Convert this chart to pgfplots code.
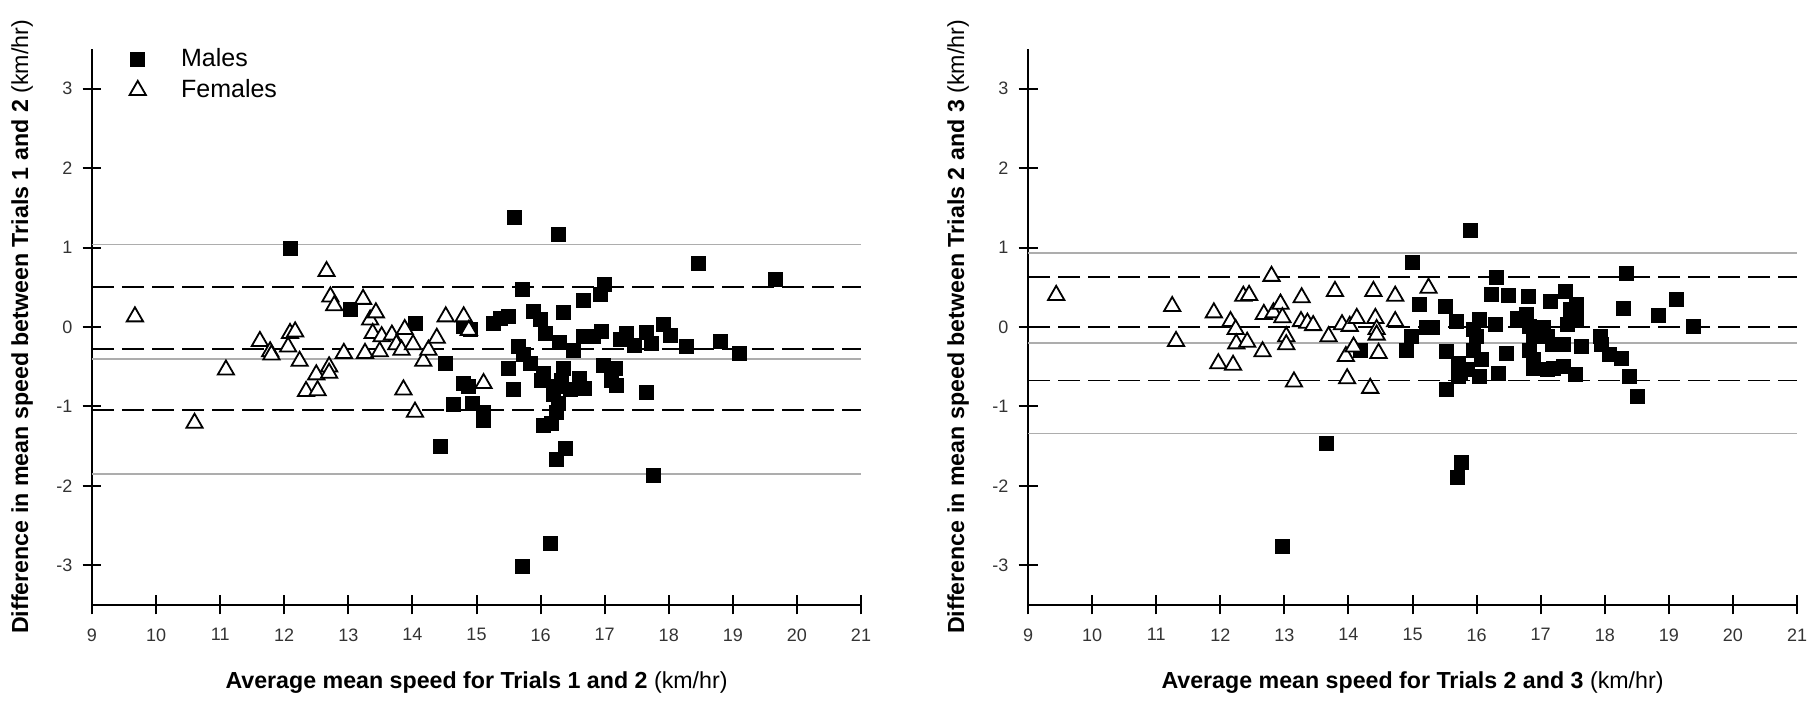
\documentclass[border=0pt]{standalone}
\usepackage{fontspec}
\setmainfont{Liberation Sans}
\usepackage{pgfplots}
\pgfplotsset{compat=1.18}

\pgfplotsset{
  ba/.style={
    width=384.5pt, height=278pt, scale only axis,
    xmin=9, xmax=21, ymin=-3.5, ymax=3.5,
    axis lines=left, axis line style={line width=1pt, -},
    xtick={9,...,21}, ytick={-3,...,3},
    tick align=center, major tick length=9.5pt,
    tick style={line width=1pt, black},
    ticklabel style={font=\fontsize{9}{11}\selectfont, text=black!80},
    xticklabel style={yshift=-3.5pt},
    yticklabel style={xshift=-1.5pt},
    /pgf/number format/assume math mode=true,
    every axis y label/.style={at={(axis description cs:-0.091,0.5)}, rotate=90,
      anchor=center, font=\fontsize{11.6}{13}\selectfont},
    every axis x label/.style={at={(axis description cs:0.5,-0.1403)},
      anchor=center, font=\fontsize{11.6}{13}\selectfont},
    clip=false,
  },
  male/.style={only marks, mark=square*, mark size=3.5pt,
    mark options={fill=black, draw=black, line width=0.4pt}},
  female/.style={only marks, mark=triangle*, mark size=4.7pt,
    mark options={fill=white, draw=black, line width=0.9pt}},
  grayline/.style={forget plot, no marks, color=black!32, line width=0.8pt},
  thickdash/.style={forget plot, no marks, black, line width=1.1pt, dash pattern=on 11pt off 4pt},
  thindash/.style={forget plot, no marks, black, line width=0.7pt, dash pattern=on 11pt off 4pt},
}

\begin{document}
\begin{tikzpicture}
\useasboundingbox (0,0) rectangle (905pt,353pt);

% ---- Trials 1 and 2
\begin{axis}[ba, at={(46pt,50.5pt)}, anchor=south west,
  xlabel={\textbf{Average mean speed for Trials 1 and 2} (km/hr)},
  ylabel={\textbf{Difference in mean speed between Trials 1 and 2} (km/hr)},
  legend style={draw=none, fill=none, at={(0.0484,1.005)}, anchor=north west,
    font=\fontsize{12.5}{15}\selectfont, row sep=3pt, inner sep=0pt,
    nodes={inner sep=1pt},
    /tikz/every odd column/.append style={column sep=16.6pt}},
  legend cell align=left,
]
\addplot[male] coordinates {
(12.09,0.99) (13.04,0.22) (14.05,0.04) (14.51,-0.46) (14.64,-0.98)
(14.80,0.01) (14.90,-0.03) (14.80,-0.71) (14.88,-0.75) (14.93,-0.96)
(15.11,-1.07) (15.11,-1.17) (14.43,-1.50) (15.26,0.05) (15.37,0.11)
(15.50,0.13) (15.59,1.38) (15.72,0.47) (15.65,-0.25) (15.73,-0.35)
(15.50,-0.52) (15.57,-0.79) (15.84,-0.46) (15.72,-3.02) (15.89,0.20)
(15.99,0.09) (16.07,-0.08) (16.04,-0.58) (16.02,-0.67) (16.04,-1.24)
(16.17,-1.21) (16.16,-2.73) (16.28,1.16) (16.36,0.18) (16.30,-0.20)
(16.51,-0.29) (16.36,-0.52) (16.33,-0.67) (16.25,-0.75) (16.20,-0.85)
(16.28,-0.96) (16.25,-1.07) (16.38,-1.53) (16.24,-1.67) (16.46,-0.79)
(16.61,-0.65) (16.69,-0.77) (16.67,0.34) (16.67,-0.12) (16.82,-0.12)
(16.95,-0.06) (16.93,0.41) (16.99,0.53) (16.98,-0.48) (17.16,-0.52)
(17.11,-0.67) (17.19,-0.73) (17.24,-0.16) (17.34,-0.08) (17.47,-0.23)
(17.65,-0.07) (17.73,-0.21) (17.65,-0.82) (17.76,-1.87) (17.91,0.03)
(18.02,-0.10) (18.27,-0.25) (18.47,0.80) (18.81,-0.18) (19.11,-0.33)
(19.67,0.60)
};
\addlegendentry{Males}
\addplot[female] coordinates {
(9.67,0.13) (10.60,-1.21) (11.09,-0.54) (11.62,-0.18) (11.78,-0.31)
(11.80,-0.35) (12.06,-0.25) (12.09,-0.08) (12.17,-0.06) (12.24,-0.43)
(12.34,-0.81) (12.50,-0.60) (12.52,-0.80) (12.66,0.70) (12.70,-0.50)
(12.70,-0.58) (12.72,0.38) (12.78,0.27) (12.93,-0.33) (13.23,0.35)
(13.26,-0.33) (13.34,0.09) (13.38,-0.08) (13.43,0.18) (13.49,-0.31)
(13.52,-0.12) (13.68,-0.10) (13.75,-0.22) (13.83,-0.29) (13.86,-0.79)
(13.88,-0.03) (14.01,-0.22) (14.04,-1.07) (14.17,-0.43) (14.25,-0.29)
(14.38,-0.14) (14.52,0.13) (14.80,0.13) (14.88,-0.04) (15.11,-0.71)
};
\addlegendentry{Females}
\addplot[grayline] coordinates {(9,1.04) (21,1.04)};
\addplot[grayline] coordinates {(9,-0.40) (21,-0.40)};
\addplot[grayline] coordinates {(9,-1.85) (21,-1.85)};
\addplot[thickdash] coordinates {(9,0.50) (21,0.50)};
\addplot[thickdash] coordinates {(9,-0.28) (21,-0.28)};
\addplot[thickdash] coordinates {(9,-1.05) (21,-1.05)};
\end{axis}

% ---- Trials 2 and 3
\begin{axis}[ba, at={(514pt,50.5pt)}, anchor=south west,
  xlabel={\textbf{Average mean speed for Trials 2 and 3} (km/hr)},
  ylabel={\textbf{Difference in mean speed between Trials 2 and 3} (km/hr)},
]
\addplot[male] coordinates {
(12.97,-2.76) (13.66,-1.47) (14.19,-0.30) (14.90,-0.30) (14.99,-0.12)
(15.00,0.81) (15.10,0.28) (15.21,-0.01) (15.31,-0.01) (15.52,0.26)
(15.53,-0.31) (15.53,-0.79) (15.69,0.07) (15.72,-0.46) (15.75,-0.58)
(15.72,-0.62) (15.85,-0.54) (15.77,-1.71) (15.70,-1.89) (15.90,1.22)
(15.95,-0.03) (15.95,-0.29) (16.05,0.09) (16.00,-0.12) (16.08,-0.41)
(16.05,-0.62) (16.23,0.41) (16.31,0.62) (16.29,0.03) (16.34,-0.58)
(16.47,-0.33) (16.49,0.40) (16.63,0.11) (16.78,0.16) (16.81,0.39)
(16.83,0.01) (16.83,-0.29) (16.89,-0.12) (16.89,-0.41) (16.89,-0.52)
(17.04,-0.01) (17.10,-0.12) (17.10,-0.54) (17.15,0.32) (17.18,-0.22)
(17.20,-0.52) (17.35,-0.22) (17.35,-0.50) (17.38,0.45) (17.41,0.03)
(17.46,0.22) (17.56,0.28) (17.56,0.11) (17.54,-0.60) (17.64,-0.25)
(17.93,-0.12) (17.95,-0.22) (18.08,-0.35) (18.26,-0.39) (18.34,0.68)
(18.29,0.24) (18.38,-0.62) (18.51,-0.88) (18.84,0.14) (19.11,0.35)
(19.38,0.01)
};
\addplot[female] coordinates {
(9.44,0.40) (11.25,0.26) (11.31,-0.18) (11.90,0.18) (11.97,-0.46)
(12.16,0.07) (12.20,-0.48) (12.24,-0.03) (12.25,-0.21) (12.36,0.39)
(12.42,-0.19) (12.45,0.40) (12.66,-0.31) (12.68,0.16) (12.80,0.64)
(12.83,0.18) (12.94,0.29) (12.97,0.12) (13.03,-0.12) (13.03,-0.22)
(13.15,-0.69) (13.26,0.07) (13.27,0.37) (13.36,0.05) (13.45,0.02)
(13.69,-0.12) (13.79,0.45) (13.90,0.03) (13.96,-0.37) (13.98,-0.65)
(14.02,0.01) (14.08,-0.25) (14.13,0.11) (14.34,-0.77) (14.39,0.45)
(14.42,0.11) (14.44,-0.03) (14.44,-0.10) (14.47,-0.33) (14.73,0.39)
(14.73,0.07) (15.25,0.49)
};
\addplot[grayline] coordinates {(9,0.93) (21,0.93)};
\addplot[grayline] coordinates {(9,-0.20) (21,-0.20)};
\addplot[grayline] coordinates {(9,-1.34) (21,-1.34)};
\addplot[thickdash] coordinates {(9,0.63) (21,0.63)};
\addplot[thindash] coordinates {(9,0.00) (21,0.00)};
\addplot[thindash] coordinates {(9,-0.67) (21,-0.67)};
\end{axis}
\end{tikzpicture}
\end{document}
